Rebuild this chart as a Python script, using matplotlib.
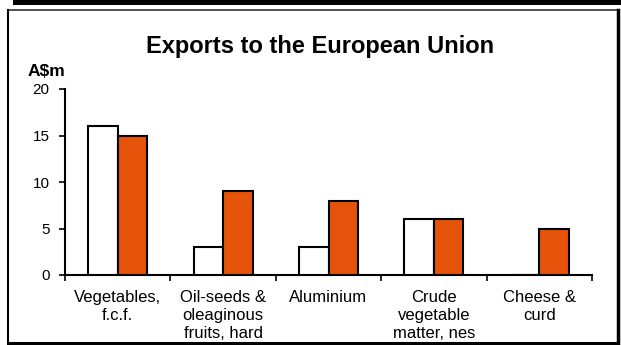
import matplotlib
matplotlib.use("Agg")
import matplotlib.pyplot as plt
import numpy as np
from matplotlib.lines import Line2D
from matplotlib.patches import Rectangle

categories = ["Vegetables,\nf.c.f.", "Oil-seeds &\noleaginous\nfruits, hard", "Aluminium",
              "Crude\nvegetable\nmatter, nes", "Cheese &\ncurd"]
series_white = [16, 3, 3, 6, 0]
series_orange = [15, 9, 8, 6, 5]
y_ticks = [0, 5, 10, 15, 20]

W, H = 621, 345
plt.rcParams['font.family'] = ['Liberation Sans', 'DejaVu Sans']
fig = plt.figure(figsize=(W / 100, H / 100), dpi=100)

def fx(px):
    return px / W

def fy(py):
    return 1 - py / H

# header bar
fig.add_artist(Rectangle((fx(13), fy(4.5)), fx(621) - fx(13), 4.5 / H, transform=fig.transFigure,
                         facecolor='black', edgecolor='none'))
# frame
fig.add_artist(Line2D([fx(8), fx(617)], [fy(9.5), fy(9.5)], transform=fig.transFigure, color='#333333', lw=1.2))
fig.add_artist(Line2D([fx(8), fx(8)], [fy(9.5), fy(342.5)], transform=fig.transFigure, color='black', lw=1.5))
fig.add_artist(Line2D([fx(8), fx(618)], [fy(342.5), fy(342.5)], transform=fig.transFigure, color='black', lw=2.2))
fig.add_artist(Line2D([fx(618), fx(618)], [fy(9.5), fy(343)], transform=fig.transFigure, color='black', lw=2.5))

ax = fig.add_axes([fx(65), fy(275), fx(592) - fx(65), (275 - 89) / H])

x = np.arange(len(categories))
bw = 0.28
ax.bar(x - bw / 2, series_white, bw, color='white', edgecolor='black', linewidth=1.5, zorder=3)
ax.bar(x + bw / 2, series_orange, bw, color='#E5540A', edgecolor='black', linewidth=1.5, zorder=3)

ax.set_xlim(-0.5, len(categories) - 0.5)
ax.set_ylim(0, 20)
ax.set_yticks(y_ticks)
ax.set_yticklabels([str(v) for v in y_ticks], fontsize=11)
ax.set_xticks(np.arange(len(categories) + 1) - 0.5)
ax.set_xticklabels([])
ax.set_xticks(x, minor=True)
ax.set_xticklabels(categories, minor=True, fontsize=12, linespacing=1.25, va='top')
ax.tick_params(axis='x', which='minor', length=0, pad=10.5)
ax.tick_params(axis='x', which='major', direction='out', length=4, width=1.2)
ax.tick_params(axis='y', direction='out', length=4, width=1.2, pad=7)

for s in ['top', 'right']:
    ax.spines[s].set_visible(False)
for s in ['left', 'bottom']:
    ax.spines[s].set_linewidth(1.5)

fig.text(fx(320), fy(52.5), "Exports to the European Union", fontsize=17, fontweight='bold',
         ha='center', va='baseline')
fig.text(fx(46.5), fy(76), "A$m", fontsize=12.5, fontweight='bold', ha='center', va='baseline')

fig.savefig("out.png", dpi=100)
